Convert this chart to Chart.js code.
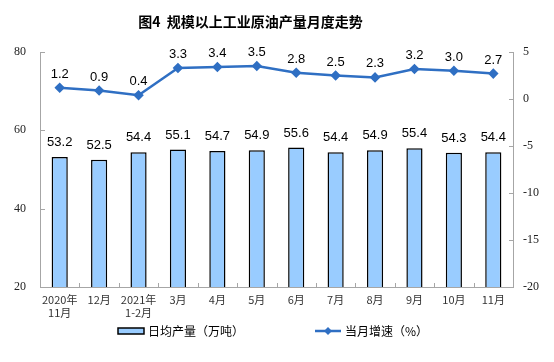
<!DOCTYPE html>
<html><head><meta charset="utf-8">
<script src="https://cdn.jsdelivr.net/npm/chart.js@4"></script>
<style>html,body{margin:0;padding:0;background:#fff;}#wrap{position:relative;width:554px;height:362px;}</style>
</head><body><div id="wrap"><canvas id="c" width="554" height="362"></canvas></div>
<script>
const chartTitle = "图4  规模以上工业原油产量月度走势";
const categories = [["2020年","11月"],"12月",["2021年","1-2月"],"3月","4月","5月","6月","7月","8月","9月","10月","11月"];
const dailyOutput = [53.2,52.5,54.4,55.1,54.7,54.9,55.6,54.4,54.9,55.4,54.3,54.4];
const growthRate = [1.2,0.9,0.4,3.3,3.4,3.5,2.8,2.5,2.3,3.2,3.0,2.7];
const seriesNames = ["日均产量（万吨）","当月增速（%）"];
const leftTicks = [20,40,60,80];
const rightTicks = [-20,-15,-10,-5,0,5];

const barColor = "#99CCFF", lineColor = "#2F6FC3", axisColor = "#A6A6A6";

const titlePlugin={id:'titleText',afterDraw(chart){const ctx=chart.ctx;ctx.save();ctx.font='bold 14px "Noto Sans CJK SC"';ctx.fillStyle='#000';ctx.textAlign='center';ctx.textBaseline='middle';const a=chart.chartArea;ctx.fillText(chartTitle,(a.left+a.right)/2-26,22);ctx.restore();}};

const legendPlugin={id:'customLegend',afterDraw(chart){const ctx=chart.ctx;const a=chart.chartArea;const y=a.bottom+44;ctx.save();ctx.font='12px "Noto Sans CJK SC"';ctx.fillStyle='#000';ctx.textBaseline='middle';ctx.textAlign='left';
 // bar item
 let x0=a.left+78;ctx.fillStyle=barColor;ctx.fillRect(x0,y-3,26,6);ctx.strokeStyle='#000';ctx.lineWidth=1.5;ctx.strokeRect(x0,y-3,26,6);
 ctx.fillStyle='#000';ctx.fillText(seriesNames[0],x0+30,y);
 // line item
 let x1=a.left+275;ctx.strokeStyle=lineColor;ctx.lineWidth=2.5;ctx.beginPath();ctx.moveTo(x1,y);ctx.lineTo(x1+26,y);ctx.stroke();
 ctx.fillStyle=lineColor;ctx.beginPath();ctx.moveTo(x1+13,y-4);ctx.lineTo(x1+17,y);ctx.lineTo(x1+13,y+4);ctx.lineTo(x1+9,y);ctx.closePath();ctx.fill();
 ctx.fillStyle='#000';ctx.fillText(seriesNames[1],x1+30,y);ctx.restore();}};

const labelPlugin={id:'valueLabels',afterDatasetsDraw(chart){const ctx=chart.ctx;ctx.save();ctx.font='13px "Liberation Sans", Arial';ctx.fillStyle='#000';ctx.textAlign='center';ctx.textBaseline='bottom';
 chart.data.datasets.forEach((ds,i)=>{const meta=chart.getDatasetMeta(i);meta.data.forEach((el,j)=>{const v=ds.data[j].toFixed(1);const off=ds.type==='bar'?8:7;ctx.fillText(v,el.x,el.y-off);});});ctx.restore();}};

const tickPlugin={id:'innerTicks',afterDraw(chart){const ctx=chart.ctx;const a=chart.chartArea;const yl=chart.scales.y,yr=chart.scales.y1,x=chart.scales.x;ctx.save();ctx.strokeStyle=axisColor;ctx.lineWidth=1;
 ctx.beginPath();ctx.moveTo(a.left+0.5,a.top);ctx.lineTo(a.left+0.5,a.bottom+0.5);ctx.lineTo(a.right+0.5,a.bottom+0.5);ctx.lineTo(a.right+0.5,a.top);ctx.stroke();
 ctx.beginPath();
 leftTicks.forEach(v=>{const p=Math.round(yl.getPixelForValue(v))+0.5;ctx.moveTo(a.left,p);ctx.lineTo(a.left+5,p);});
 rightTicks.forEach(v=>{const p=Math.round(yr.getPixelForValue(v))+0.5;ctx.moveTo(a.right+1,p);ctx.lineTo(a.right-4,p);});
 for(let i=0;i<=categories.length;i++){const p=Math.round(x.getPixelForValue(i-0.5))+0.5;ctx.moveTo(p,a.bottom);ctx.lineTo(p,a.bottom-4);}
 ctx.stroke();ctx.restore();}};

new Chart(document.getElementById('c'),{
 data:{labels:categories,datasets:[
  {type:'bar',label:seriesNames[0],data:dailyOutput,yAxisID:'y',backgroundColor:barColor,borderColor:'#000',borderWidth:1.5,barPercentage:0.41,categoryPercentage:1,order:2},
  {type:'line',label:seriesNames[1],data:growthRate,yAxisID:'y1',borderColor:lineColor,backgroundColor:lineColor,borderWidth:2.5,pointStyle:'rectRot',pointRadius:3.5,pointBackgroundColor:lineColor,pointBorderColor:lineColor,tension:0,order:1}
 ]},
 options:{responsive:false,animation:false,devicePixelRatio:1,
  layout:{padding:{top:52,right:0,left:0,bottom:37}},
  plugins:{title:{display:false},tooltip:{enabled:false},legend:{display:false}},
  scales:{
   x:{offset:true,grid:{display:false,drawTicks:false},border:{display:false},ticks:{color:'#333',font:{family:'"Noto Sans CJK SC"',size:11},padding:6,maxRotation:0,autoSkip:false},afterFit(s){s.height=38;}},
   y:{position:'left',min:20,max:80,afterBuildTicks(s){s.ticks=leftTicks.map(v=>({value:v}));},grid:{display:false,drawTicks:false},border:{display:false},ticks:{color:'#222',font:{family:'"Liberation Serif"',size:12},padding:14},afterFit(s){s.width=40;}},
   y1:{position:'right',min:-20,max:5,afterBuildTicks(s){s.ticks=rightTicks.map(v=>({value:v}));},grid:{display:false,drawTicks:false},border:{display:false},ticks:{color:'#222',font:{family:'"Liberation Serif"',size:12},padding:10},afterFit(s){s.width=41;}}
  }},
 plugins:[titlePlugin,labelPlugin,tickPlugin,legendPlugin]
});
</script></body></html>
